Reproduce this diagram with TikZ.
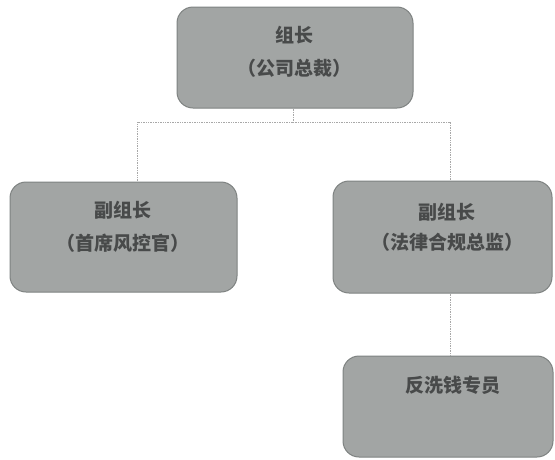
\documentclass[tikz,border=0pt]{standalone}
\usepackage{fontspec}
\newfontfamily\cjk{Noto Sans CJK SC}
\begin{document}
\begin{tikzpicture}[x=1pt,y=-1pt,
  box/.style={draw=boxedge, fill=boxfill, line width=1pt, rounded corners=16pt, inner sep=0pt},
  lbl/.style={text=txtcol, font=\cjk\bfseries\fontsize{19}{22}\selectfont, inner sep=0pt},
  conn/.style={draw=linecol, line width=0.7pt, densely dotted}]
\definecolor{boxfill}{HTML}{A2A5A4}
\definecolor{boxedge}{HTML}{7E8281}
\definecolor{txtcol}{HTML}{484A4A}
\definecolor{linecol}{HTML}{A8A8A8}
\useasboundingbox (0,0) rectangle (555,459);
% boxes
\node[box, minimum width=236pt, minimum height=101pt] (top) at (295,57.5) {};
\node[box, minimum width=227pt, minimum height=110pt] (left) at (123.5,237) {};
\node[box, minimum width=219pt, minimum height=112pt] (right) at (442.5,237) {};
\node[box, minimum width=210pt, minimum height=101pt] (bottom) at (448,406.5) {};
% texts
\node[lbl] (t1) at (294,35) {组长};
\node[lbl] (t2) at (294,68) {（公司总裁）};
\node[lbl] (l1) at (123,210) {副组长};
\node[lbl] (l2) at (123,243) {（首席风控官）};
\node[lbl] (r1) at (447,212) {副组长};
\node[lbl] (r2) at (447,242) {（法律合规总监）};
\node[lbl] (b1) at (453,385) {反洗钱专员};
% connectors
\coordinate (hub) at (293,122);
\draw[conn] (top.south -| hub) -- (hub);
\draw[conn] (hub) -- (137,122) coordinate (lc) -- (left.north -| lc);
\draw[conn] (hub) -- (450,122) coordinate (rc) -- (right.north -| rc);
\draw[conn] (right.south -| rc) -- (bottom.north -| rc);
\end{tikzpicture}
\end{document}
